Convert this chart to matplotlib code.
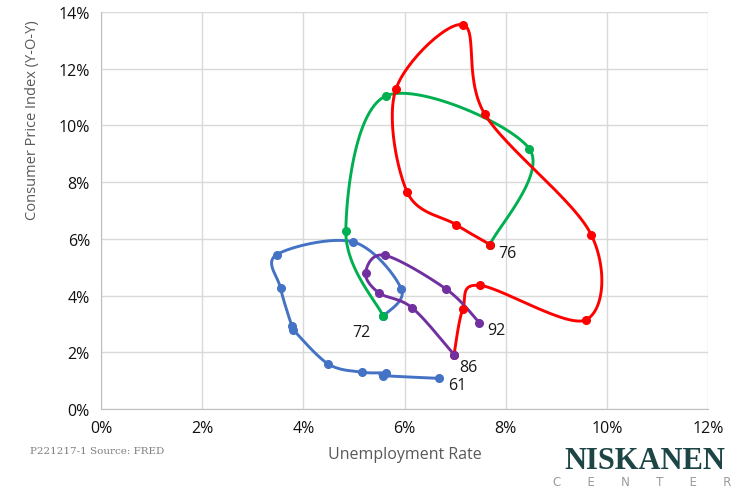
import numpy as np
import matplotlib
matplotlib.use("Agg")
import matplotlib.pyplot as plt
from matplotlib.ticker import FuncFormatter

# Data (unemployment %, CPI y-o-y %)
blue_u = [6.69, 5.57, 5.63, 5.15, 4.49, 3.80, 3.77, 3.55, 3.47, 4.99, 5.94, 5.58]
blue_c = [1.08, 1.18, 1.27, 1.30, 1.59, 2.80, 2.94, 4.26, 5.44, 5.89, 4.22, 3.27]
green_u = [5.58, 4.84, 5.63, 8.47, 7.69]
green_c = [3.27, 6.27, 11.04, 9.17, 5.80]
red_u = [7.69, 7.02, 6.05, 5.83, 7.16, 7.59, 9.69, 9.58, 7.49, 7.15, 6.98]
red_c = [5.80, 6.50, 7.66, 11.28, 13.55, 10.39, 6.15, 3.14, 4.36, 3.51, 1.92]
purple_u = [6.98, 6.15, 5.49, 5.23, 5.61, 6.83, 7.48]
purple_c = [1.92, 3.57, 4.10, 4.81, 5.42, 4.22, 3.04]

labels = ["61", "72", "76", "86", "92"]
label_u = [6.69, 5.58, 7.69, 6.98, 7.48]
label_c = [1.08, 3.27, 5.80, 1.92, 3.04]

x_ticks = [0, 2, 4, 6, 8, 10, 12]
y_ticks = [0, 2, 4, 6, 8, 10, 12, 14]

def smooth(xs, ys, n=30):
    p = np.column_stack([xs, ys]).astype(float)
    if len(p) < 3:
        return p[:, 0], p[:, 1]
    ext = np.vstack([p[0], p, p[-1]])
    out = []
    for i in range(1, len(ext) - 2):
        p0, p1, p2, p3 = ext[i - 1], ext[i], ext[i + 1], ext[i + 2]
        c1 = p1 + (p2 - p0) / 6.0
        c2 = p2 - (p3 - p1) / 6.0
        t = np.linspace(0, 1, n)[:, None]
        seg = ((1 - t) ** 3) * p1 + 3 * ((1 - t) ** 2) * t * c1 + 3 * (1 - t) * t ** 2 * c2 + t ** 3 * p2
        out.append(seg if i == 1 else seg[1:])
    out = np.vstack(out)
    return out[:, 0], out[:, 1]

fig = plt.figure(figsize=(7.42, 4.89), dpi=100)
ax = fig.add_axes([101 / 742, 1 - 410 / 489, (708 - 101) / 742, (410 - 13) / 489])

series = [
    (blue_u, blue_c, "#4472C4"),
    (green_u, green_c, "#00B050"),
    (red_u, red_c, "#FF0000"),
    (purple_u, purple_c, "#7030A0"),
]
for xs, ys, col in series:
    sx, sy = smooth(xs, ys)
    ax.plot(sx, sy, color=col, lw=2.1, solid_capstyle="round", zorder=3)
    ax.plot(xs, ys, "o", color=col, ms=5.5, zorder=4)

offsets = {"61": (6, -5), "72": (-22, -11), "76": (6, -6), "86": (4, -9), "92": (6, -5)}
for lab, u, c in zip(labels, label_u, label_c):
    ax.annotate(lab, (u, c), xytext=offsets[lab], textcoords="offset points",
                fontsize=11.5, color="#1a1a1a", family="Open Sans", va="center", ha="left")

ax.set_xlim(0, 12)
ax.set_ylim(0, 14)
ax.set_xticks(x_ticks)
ax.set_yticks(y_ticks)
ax.xaxis.set_major_formatter(FuncFormatter(lambda v, p: f"{v:.0f}%"))
ax.yaxis.set_major_formatter(FuncFormatter(lambda v, p: f"{v:.0f}%"))
ax.grid(True, color="#D9D9D9", lw=1)
ax.set_axisbelow(True)
for s in ["top", "right"]:
    ax.spines[s].set_visible(False)
for s in ["left", "bottom"]:
    ax.spines[s].set_color("#BFBFBF")
ax.tick_params(length=0, labelsize=11.5, labelcolor="#111111", pad=8)
for t in ax.get_xticklabels() + ax.get_yticklabels():
    t.set_family("Open Sans")

ax.set_xlabel("Unemployment Rate", fontsize=11.5, color="#595959", family="Open Sans", labelpad=7)
fig.text(33 / 742, 1 - 120 / 489, "Consumer Price Index (Y-O-Y)", rotation=90, fontsize=10.5,
         color="#595959", family="Open Sans", ha="center", va="center")

fig.text(30 / 742, 1 - 452 / 489, "P221217-1 Source: FRED", fontsize=7.5, color="#7F7F7F",
         family="DejaVu Serif", ha="left", va="center")
fig.text(645 / 742, 1 - 462 / 489, "NISKANEN", fontsize=22, color="#1E4545", weight="bold",
         family="Liberation Serif", ha="center", va="center")
fig.text(642 / 742, 1 - 483 / 489, "C       E       N       T       E       R", fontsize=8.5,
         color="#9A9A9A", family="DejaVu Sans", ha="center", va="center")

fig.savefig("out.png", dpi=100)
